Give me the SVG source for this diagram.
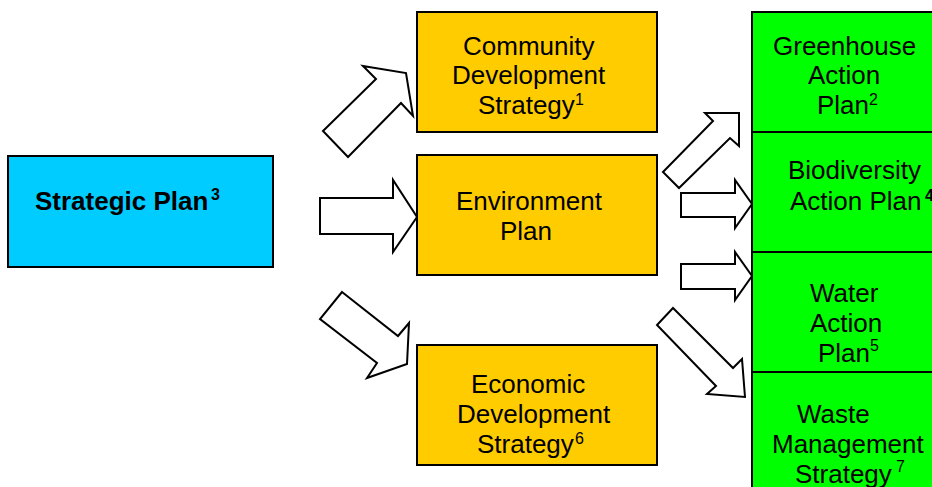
<svg xmlns="http://www.w3.org/2000/svg" width="932" height="487" viewBox="0 0 932 487">
<style>
.box{stroke:#000;stroke-width:2}
.blue{fill:#00CCFF}
.gold{fill:#FFCC00}
.green{fill:#00FF00}
.t{font-family:"Liberation Sans",Arial,sans-serif;font-size:26px;fill:#000}
.b{font-weight:bold}
.sup{font-size:16px}
.arrow{fill:#fff;stroke:#000;stroke-width:2;stroke-linejoin:miter}
</style>
<rect width="932" height="487" fill="#fff"/>
<g id="connectors">
<polygon class="arrow" points="323,131 376,79 363,66 406,73 413,116 401,103 348,157"/>
<polygon class="arrow" points="320,198 393,198 393,180 417,217 393,252 393,234 320,234"/>
<polygon class="arrow" points="342,292 398,336 409,323 407,364 367,378 377,363 320,319"/>
<polygon class="arrow" points="663,172 713,121 705,113 739,113 739,146 730,138 679,188"/>
<polygon class="arrow" points="681,193 735,193 735,180 752,204 735,228 735,217 681,217"/>
<polygon class="arrow" points="681,264 735,264 735,252 752,276 735,300 735,289 681,289"/>
<polygon class="arrow" points="673,308 733,368 742,359 745,397 707,394 716,386 657,325"/>
</g>
<g id="strategic-plan">
<rect class="box blue" x="8" y="156" width="265" height="111"/>
<text class="t b"><tspan x="35" y="210">Strategic Plan</tspan><tspan class="sup" x="211" y="200">3</tspan></text>
</g>
<g id="community">
<rect class="box gold" x="417" y="12" width="240" height="120"/>
<text class="t"><tspan x="463" y="55">Community</tspan><tspan x="452" y="84">Development</tspan><tspan x="478" y="114">Strategy</tspan><tspan class="sup" x="575" y="105">1</tspan></text>
</g>
<g id="environment">
<rect class="box gold" x="417" y="155" width="240" height="120"/>
<text class="t"><tspan x="456" y="210">Environment</tspan><tspan x="500" y="240">Plan</tspan></text>
</g>
<g id="economic">
<rect class="box gold" x="417" y="345" width="240" height="120"/>
<text class="t"><tspan x="471" y="393">Economic</tspan><tspan x="457" y="423">Development</tspan><tspan x="477" y="453">Strategy</tspan><tspan class="sup" x="575" y="444">6</tspan></text>
</g>
<g id="greenhouse">
<rect class="box green" x="752" y="12" width="240" height="120"/>
<text class="t"><tspan x="773" y="55">Greenhouse</tspan><tspan x="808" y="84">Action</tspan><tspan x="817" y="114">Plan</tspan><tspan class="sup" x="869" y="105">2</tspan></text>
</g>
<g id="biodiversity">
<rect class="box green" x="752" y="132" width="240" height="120"/>
<text class="t"><tspan x="788" y="179">Biodiversity</tspan><tspan x="790" y="210">Action Plan</tspan><tspan class="sup b" x="925" y="201">4</tspan></text>
</g>
<g id="water">
<rect class="box green" x="752" y="252" width="240" height="120"/>
<text class="t"><tspan x="810" y="302">Water</tspan><tspan x="810" y="332">Action</tspan><tspan x="818" y="362">Plan</tspan><tspan class="sup" x="870" y="351">5</tspan></text>
</g>
<g id="waste">
<rect class="box green" x="752" y="372" width="240" height="120"/>
<text class="t"><tspan x="797" y="423">Waste</tspan><tspan x="772" y="453">Management</tspan><tspan x="795" y="483">Strategy</tspan><tspan class="sup" x="896" y="472">7</tspan></text>
</g>
</svg>
